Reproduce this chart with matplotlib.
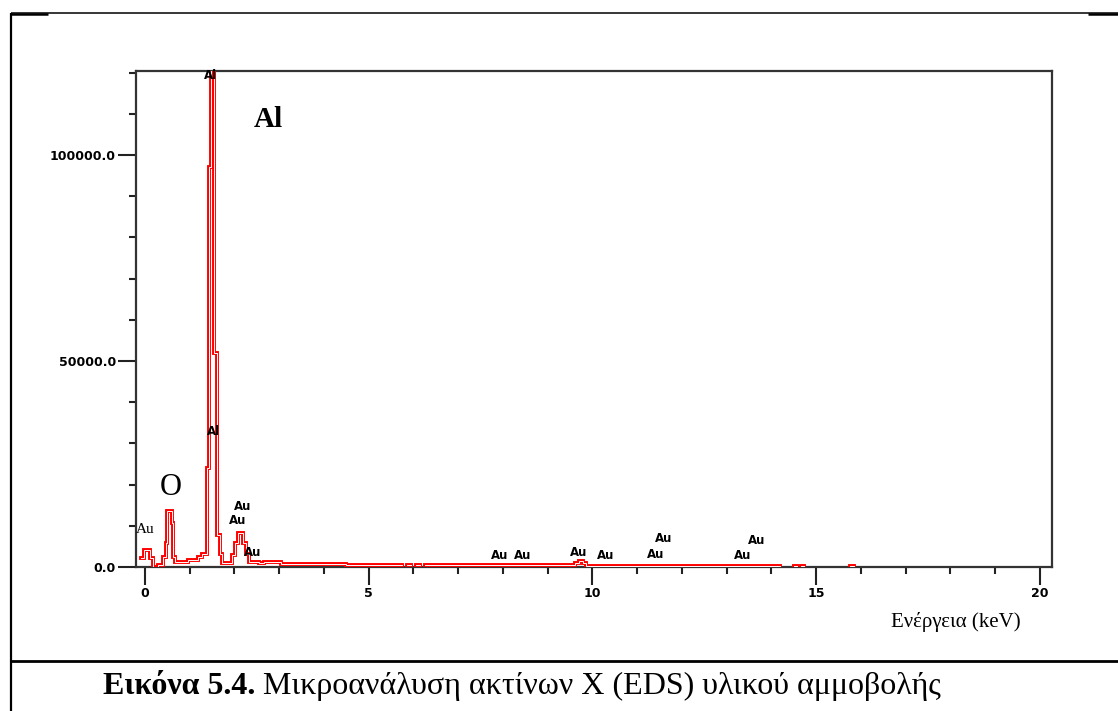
import numpy as np
import matplotlib
matplotlib.use("Agg")
import matplotlib.pyplot as plt
from matplotlib.lines import Line2D
from matplotlib.ticker import MultipleLocator, FormatStrFormatter

# ---- data ----
energy_keV = [-0.09, -0.02, 0.12, 0.18, 0.30, 0.41, 0.47, 0.50, 0.60, 0.63, 0.67,
              0.97, 1.19, 1.27, 1.38, 1.43, 1.475, 1.54, 1.61, 1.68, 1.71,
              1.95, 2.02, 2.08, 2.20, 2.26, 2.32, 2.55, 2.65, 3.05,
              4.50, 5.60, 5.75, 5.85, 5.95, 6.05, 6.15, 6.25, 6.40,
              8.00, 9.55, 9.62, 9.70, 9.78, 9.85, 11.50, 13.00, 14.20,
              14.50, 14.57, 14.65, 14.72, 15.75, 15.85]
counts = [2100, 4100, 2100, 0, 500, 2500, 5800, 13600, 10700, 2500, 1300,
          1700, 2500, 3200, 24000, 97000, 130000, 52000, 7800, 3200, 900,
          3000, 5800, 8200, 5800, 3200, 1300, 900, 1200, 650,
          600, 550, np.nan, 450, np.nan, 450, np.nan, 450, 450,
          400, 400, 1000, 1400, 1000, 350, 300, 250, np.nan,
          200, np.nan, 200, np.nan, 200, np.nan]

x_ticks = [0, 5, 10, 15, 20]
y_ticks = [0, 50000, 100000]

# small instrument peak labels: (text, energy, counts)
peak_labels = [("Al", 1.47, 119200), ("Al", 1.52, 32800),
               ("Au", 2.19, 14800), ("Au", 2.08, 11200), ("Au", 2.41, 3640),
               ("Au", 7.93, 2900), ("Au", 8.45, 2670), ("Au", 9.68, 3400),
               ("Au", 10.30, 2670), ("Au", 11.58, 6800), ("Au", 11.42, 3150),
               ("Au", 13.68, 6550), ("Au", 13.36, 2670)]

W, H = 1118, 711
fig = plt.figure(figsize=(W / 100, H / 100), dpi=100)
fig.patch.set_facecolor("white")

ax = fig.add_axes([136 / W, 1 - 567 / H, (1052 - 136) / W, (567 - 71) / H])
ax.set_xlim(-0.201, 20.27)
ax.set_ylim(0, 120388)

ax.plot(energy_keV, counts, drawstyle="steps-post", color="#ff0000", lw=2.8,
        solid_joinstyle="miter", zorder=3)
ax.plot(energy_keV, counts, drawstyle="steps-post", color="white", lw=0.7,
        solid_joinstyle="miter", zorder=3.1)

for sp in ax.spines.values():
    sp.set_color("#333333")
    sp.set_linewidth(1.6)

ax.set_xticks(x_ticks)
ax.set_yticks(y_ticks)
ax.xaxis.set_minor_locator(MultipleLocator(1))
ax.yaxis.set_minor_locator(MultipleLocator(10000))
ax.yaxis.set_major_formatter(FormatStrFormatter("%.1f"))
ax.tick_params(which="major", direction="out", length=13, width=1.5,
               color="#222222", pad=1.5, labelsize=9)
ax.tick_params(which="minor", direction="out", length=5, width=1.5,
               color="#222222")
for lab in ax.get_xticklabels() + ax.get_yticklabels():
    lab.set_fontweight("bold")
    lab.set_family("DejaVu Sans")

for txt, e, c in peak_labels:
    ax.text(e, c, txt, fontsize=8.5, fontweight="bold", family="DejaVu Sans",
            ha="center", va="center", zorder=4, clip_on=False)

serif = "Liberation Serif"
ax.text(0.0, 9200, "Au", fontsize=11, family=serif, ha="center", va="center")
ax.text(0.58, 19400, "O", fontsize=22, family=serif, ha="center", va="center")
ax.text(2.75, 108500, "Al", fontsize=21, family=serif, fontweight="bold",
        ha="center", va="center")

fig.text(956 / W, 1 - 622 / H, "Ενέργεια (keV)", fontsize=15, family=serif,
         ha="center", va="center")

# ---- frame lines of the document table ----
def fline(x0, y0, x1, y1, lw):
    fig.add_artist(Line2D([x0 / W, x1 / W], [1 - y0 / H, 1 - y1 / H],
                          color="black", lw=lw, transform=fig.transFigure,
                          solid_capstyle="butt"))

fline(11, 13, 11, 711, 1.6)
fline(11, 13, 1118, 13, 1.1)
fline(11, 13.5, 48, 13.5, 1.8)
fline(1088, 13.5, 1118, 13.5, 1.8)
fline(11, 661, 1118, 661, 2.0)

# ---- caption ----
cap_y = 1 - 686 / H
t1 = fig.text(103 / W, cap_y, "Εικόνα 5.4.", fontsize=23, family=serif,
              fontweight="bold", ha="left", va="center")
fig.canvas.draw()
bb = t1.get_window_extent(fig.canvas.get_renderer())
fig.text(bb.x1 / W, cap_y, " Μικροανάλυση ακτίνων X (EDS) υλικού αμμοβολής",
         fontsize=23, family=serif, ha="left", va="center")

fig.savefig("out.png", dpi=100, facecolor="white")
